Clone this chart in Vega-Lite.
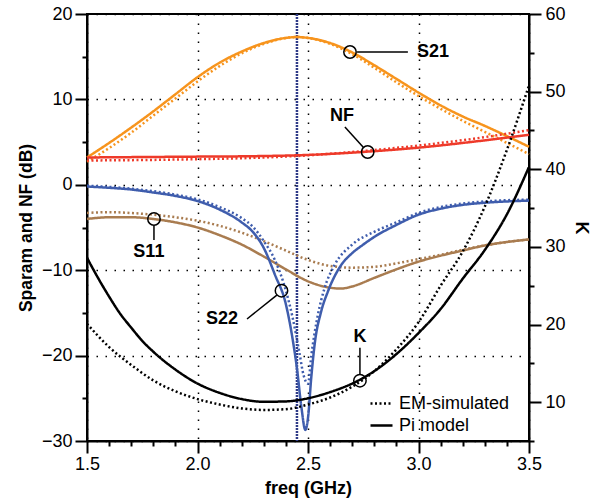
{
  "$schema": "https://vega.github.io/schema/vega-lite/v6.json",
  "width": 442,
  "height": 427,
  "autosize": {"type": "none"},
  "padding": {"left": 87, "top": 14, "right": 72, "bottom": 58},
  "background": "white",
  "config": {
    "view": {"stroke": "black", "strokeWidth": 2},
    "font": "Liberation Sans",
    "axis": {
      "labelFont": "Liberation Sans", "labelFontSize": 18, "labelColor": "black",
      "titleFont": "Liberation Sans", "titleFontSize": 18, "titleFontWeight": "bold", "titleColor": "black",
      "domainColor": "black", "domainWidth": 2, "tickColor": "black", "tickWidth": 2,
      "labelOverlap": false, "labelFlush": false, "labelBound": false,
      "gridColor": "black", "gridDash": [1.5, 7.5], "gridWidth": 1.5
    },
    "legend": {
      "orient": "none", "legendX": 282, "legendY": 377, "padding": 0,
      "labelFont": "Liberation Sans", "labelFontSize": 18, "labelColor": "black",
      "symbolType": "stroke", "symbolSize": 484, "symbolStrokeWidth": 2.5, "symbolStrokeColor": "black",
      "rowPadding": 0, "labelOffset": 5
    }
  },
  "datasets": {
    "db": [
      {"s":"S21","m":"Pi model","f":1.5,"v":3.2},{"s":"S21","m":"Pi model","f":1.6,"v":4.9},{"s":"S21","m":"Pi model","f":1.7,"v":6.7},{"s":"S21","m":"Pi model","f":1.8,"v":8.6},{"s":"S21","m":"Pi model","f":1.9,"v":10.6},{"s":"S21","m":"Pi model","f":2.0,"v":12.6},{"s":"S21","m":"Pi model","f":2.1,"v":14.3},{"s":"S21","m":"Pi model","f":2.2,"v":15.6},{"s":"S21","m":"Pi model","f":2.3,"v":16.6},{"s":"S21","m":"Pi model","f":2.4,"v":17.2},{"s":"S21","m":"Pi model","f":2.45,"v":17.3},{"s":"S21","m":"Pi model","f":2.5,"v":17.2},{"s":"S21","m":"Pi model","f":2.6,"v":16.6},{"s":"S21","m":"Pi model","f":2.7,"v":15.5},{"s":"S21","m":"Pi model","f":2.8,"v":14.0},{"s":"S21","m":"Pi model","f":2.9,"v":12.4},{"s":"S21","m":"Pi model","f":3.0,"v":10.8},{"s":"S21","m":"Pi model","f":3.1,"v":9.3},{"s":"S21","m":"Pi model","f":3.2,"v":8.0},{"s":"S21","m":"Pi model","f":3.3,"v":6.9},{"s":"S21","m":"Pi model","f":3.4,"v":5.7},{"s":"S21","m":"Pi model","f":3.5,"v":4.45},
      {"s":"S21","m":"EM-simulated","f":1.5,"v":2.7},{"s":"S21","m":"EM-simulated","f":1.6,"v":4.3},{"s":"S21","m":"EM-simulated","f":1.7,"v":6.1},{"s":"S21","m":"EM-simulated","f":1.8,"v":8.1},{"s":"S21","m":"EM-simulated","f":1.9,"v":10.1},{"s":"S21","m":"EM-simulated","f":2.0,"v":12.1},{"s":"S21","m":"EM-simulated","f":2.1,"v":13.9},{"s":"S21","m":"EM-simulated","f":2.2,"v":15.4},{"s":"S21","m":"EM-simulated","f":2.3,"v":16.5},{"s":"S21","m":"EM-simulated","f":2.4,"v":17.2},{"s":"S21","m":"EM-simulated","f":2.45,"v":17.3},{"s":"S21","m":"EM-simulated","f":2.5,"v":17.2},{"s":"S21","m":"EM-simulated","f":2.6,"v":16.5},{"s":"S21","m":"EM-simulated","f":2.7,"v":15.3},{"s":"S21","m":"EM-simulated","f":2.8,"v":13.7},{"s":"S21","m":"EM-simulated","f":2.9,"v":12.0},{"s":"S21","m":"EM-simulated","f":3.0,"v":10.4},{"s":"S21","m":"EM-simulated","f":3.1,"v":8.9},{"s":"S21","m":"EM-simulated","f":3.2,"v":7.5},{"s":"S21","m":"EM-simulated","f":3.3,"v":6.2},{"s":"S21","m":"EM-simulated","f":3.4,"v":4.9},{"s":"S21","m":"EM-simulated","f":3.5,"v":3.6},
      {"s":"NF","m":"Pi model","f":1.5,"v":3.2},{"s":"NF","m":"Pi model","f":1.75,"v":3.25},{"s":"NF","m":"Pi model","f":2.0,"v":3.3},{"s":"NF","m":"Pi model","f":2.25,"v":3.35},{"s":"NF","m":"Pi model","f":2.5,"v":3.5},{"s":"NF","m":"Pi model","f":2.75,"v":3.85},{"s":"NF","m":"Pi model","f":3.0,"v":4.35},{"s":"NF","m":"Pi model","f":3.25,"v":5.05},{"s":"NF","m":"Pi model","f":3.5,"v":5.85},
      {"s":"NF","m":"EM-simulated","f":1.5,"v":2.85},{"s":"NF","m":"EM-simulated","f":1.75,"v":2.9},{"s":"NF","m":"EM-simulated","f":2.0,"v":3.0},{"s":"NF","m":"EM-simulated","f":2.25,"v":3.15},{"s":"NF","m":"EM-simulated","f":2.5,"v":3.45},{"s":"NF","m":"EM-simulated","f":2.75,"v":3.95},{"s":"NF","m":"EM-simulated","f":3.0,"v":4.6},{"s":"NF","m":"EM-simulated","f":3.25,"v":5.4},{"s":"NF","m":"EM-simulated","f":3.5,"v":6.4},
      {"s":"S11","m":"Pi model","f":1.5,"v":-4.0},{"s":"S11","m":"Pi model","f":1.6,"v":-3.8},{"s":"S11","m":"Pi model","f":1.7,"v":-3.8},{"s":"S11","m":"Pi model","f":1.8,"v":-4.0},{"s":"S11","m":"Pi model","f":1.9,"v":-4.4},{"s":"S11","m":"Pi model","f":2.0,"v":-5.0},{"s":"S11","m":"Pi model","f":2.1,"v":-5.9},{"s":"S11","m":"Pi model","f":2.2,"v":-7.0},{"s":"S11","m":"Pi model","f":2.3,"v":-8.4},{"s":"S11","m":"Pi model","f":2.4,"v":-9.9},{"s":"S11","m":"Pi model","f":2.5,"v":-11.3},{"s":"S11","m":"Pi model","f":2.6,"v":-12.05},{"s":"S11","m":"Pi model","f":2.65,"v":-12.15},{"s":"S11","m":"Pi model","f":2.7,"v":-11.9},{"s":"S11","m":"Pi model","f":2.8,"v":-10.9},{"s":"S11","m":"Pi model","f":2.9,"v":-9.9},{"s":"S11","m":"Pi model","f":3.0,"v":-9.0},{"s":"S11","m":"Pi model","f":3.1,"v":-8.3},{"s":"S11","m":"Pi model","f":3.2,"v":-7.7},{"s":"S11","m":"Pi model","f":3.3,"v":-7.1},{"s":"S11","m":"Pi model","f":3.4,"v":-6.7},{"s":"S11","m":"Pi model","f":3.5,"v":-6.4},
      {"s":"S11","m":"EM-simulated","f":1.5,"v":-3.3},{"s":"S11","m":"EM-simulated","f":1.6,"v":-3.2},{"s":"S11","m":"EM-simulated","f":1.7,"v":-3.3},{"s":"S11","m":"EM-simulated","f":1.8,"v":-3.5},{"s":"S11","m":"EM-simulated","f":1.9,"v":-3.8},{"s":"S11","m":"EM-simulated","f":2.0,"v":-4.2},{"s":"S11","m":"EM-simulated","f":2.1,"v":-4.8},{"s":"S11","m":"EM-simulated","f":2.2,"v":-5.6},{"s":"S11","m":"EM-simulated","f":2.3,"v":-6.6},{"s":"S11","m":"EM-simulated","f":2.4,"v":-7.7},{"s":"S11","m":"EM-simulated","f":2.5,"v":-8.8},{"s":"S11","m":"EM-simulated","f":2.6,"v":-9.5},{"s":"S11","m":"EM-simulated","f":2.7,"v":-9.7},{"s":"S11","m":"EM-simulated","f":2.8,"v":-9.6},{"s":"S11","m":"EM-simulated","f":2.9,"v":-9.2},{"s":"S11","m":"EM-simulated","f":3.0,"v":-8.7},{"s":"S11","m":"EM-simulated","f":3.1,"v":-8.2},{"s":"S11","m":"EM-simulated","f":3.2,"v":-7.6},{"s":"S11","m":"EM-simulated","f":3.3,"v":-7.1},{"s":"S11","m":"EM-simulated","f":3.4,"v":-6.7},{"s":"S11","m":"EM-simulated","f":3.5,"v":-6.4},
      {"s":"S22","m":"Pi model","f":1.5,"v":-0.2},{"s":"S22","m":"Pi model","f":1.6,"v":-0.35},{"s":"S22","m":"Pi model","f":1.7,"v":-0.55},{"s":"S22","m":"Pi model","f":1.8,"v":-0.9},{"s":"S22","m":"Pi model","f":1.9,"v":-1.3},{"s":"S22","m":"Pi model","f":2.0,"v":-1.9},{"s":"S22","m":"Pi model","f":2.1,"v":-2.9},{"s":"S22","m":"Pi model","f":2.2,"v":-4.4},{"s":"S22","m":"Pi model","f":2.25,"v":-5.5},{"s":"S22","m":"Pi model","f":2.3,"v":-7.4},{"s":"S22","m":"Pi model","f":2.35,"v":-10.5},{"s":"S22","m":"Pi model","f":2.4,"v":-14.0},{"s":"S22","m":"Pi model","f":2.43,"v":-18.0},{"s":"S22","m":"Pi model","f":2.45,"v":-21.5},{"s":"S22","m":"Pi model","f":2.47,"v":-26.0},{"s":"S22","m":"Pi model","f":2.488,"v":-28.7},{"s":"S22","m":"Pi model","f":2.5,"v":-27.3},{"s":"S22","m":"Pi model","f":2.515,"v":-22.5},{"s":"S22","m":"Pi model","f":2.53,"v":-18.7},{"s":"S22","m":"Pi model","f":2.56,"v":-14.8},{"s":"S22","m":"Pi model","f":2.59,"v":-12.5},{"s":"S22","m":"Pi model","f":2.65,"v":-9.4},{"s":"S22","m":"Pi model","f":2.7,"v":-8.0},{"s":"S22","m":"Pi model","f":2.75,"v":-7.0},{"s":"S22","m":"Pi model","f":2.8,"v":-6.1},{"s":"S22","m":"Pi model","f":2.9,"v":-4.7},{"s":"S22","m":"Pi model","f":3.0,"v":-3.5},{"s":"S22","m":"Pi model","f":3.1,"v":-2.8},{"s":"S22","m":"Pi model","f":3.2,"v":-2.35},{"s":"S22","m":"Pi model","f":3.3,"v":-2.1},{"s":"S22","m":"Pi model","f":3.4,"v":-1.95},{"s":"S22","m":"Pi model","f":3.5,"v":-1.85},
      {"s":"S22","m":"EM-simulated","f":1.5,"v":-0.1},{"s":"S22","m":"EM-simulated","f":1.6,"v":-0.25},{"s":"S22","m":"EM-simulated","f":1.7,"v":-0.45},{"s":"S22","m":"EM-simulated","f":1.8,"v":-0.75},{"s":"S22","m":"EM-simulated","f":1.9,"v":-1.15},{"s":"S22","m":"EM-simulated","f":2.0,"v":-1.7},{"s":"S22","m":"EM-simulated","f":2.1,"v":-2.6},{"s":"S22","m":"EM-simulated","f":2.2,"v":-3.9},{"s":"S22","m":"EM-simulated","f":2.25,"v":-4.9},{"s":"S22","m":"EM-simulated","f":2.3,"v":-6.6},{"s":"S22","m":"EM-simulated","f":2.35,"v":-8.8},{"s":"S22","m":"EM-simulated","f":2.4,"v":-12.4},{"s":"S22","m":"EM-simulated","f":2.43,"v":-15.5},{"s":"S22","m":"EM-simulated","f":2.46,"v":-19.5},{"s":"S22","m":"EM-simulated","f":2.48,"v":-22.3},{"s":"S22","m":"EM-simulated","f":2.5,"v":-23.3},{"s":"S22","m":"EM-simulated","f":2.515,"v":-20.0},{"s":"S22","m":"EM-simulated","f":2.545,"v":-15.2},{"s":"S22","m":"EM-simulated","f":2.575,"v":-12.1},{"s":"S22","m":"EM-simulated","f":2.62,"v":-9.4},{"s":"S22","m":"EM-simulated","f":2.7,"v":-7.0},{"s":"S22","m":"EM-simulated","f":2.8,"v":-5.5},{"s":"S22","m":"EM-simulated","f":2.9,"v":-4.4},{"s":"S22","m":"EM-simulated","f":3.0,"v":-3.3},{"s":"S22","m":"EM-simulated","f":3.1,"v":-2.6},{"s":"S22","m":"EM-simulated","f":3.2,"v":-2.2},{"s":"S22","m":"EM-simulated","f":3.3,"v":-1.95},{"s":"S22","m":"EM-simulated","f":3.4,"v":-1.8},{"s":"S22","m":"EM-simulated","f":3.5,"v":-1.75}
    ],
    "kline": [
      {"m":"Pi model","f":1.5,"k":28.6},{"m":"Pi model","f":1.55,"k":26.0},{"m":"Pi model","f":1.6,"k":23.6},{"m":"Pi model","f":1.65,"k":21.4},{"m":"Pi model","f":1.7,"k":19.6},{"m":"Pi model","f":1.75,"k":17.9},{"m":"Pi model","f":1.8,"k":16.5},{"m":"Pi model","f":1.9,"k":14.2},{"m":"Pi model","f":2.0,"k":12.4},{"m":"Pi model","f":2.1,"k":11.2},{"m":"Pi model","f":2.2,"k":10.4},{"m":"Pi model","f":2.3,"k":10.05},{"m":"Pi model","f":2.4,"k":10.1},{"m":"Pi model","f":2.5,"k":10.5},{"m":"Pi model","f":2.6,"k":11.3},{"m":"Pi model","f":2.7,"k":12.4},{"m":"Pi model","f":2.8,"k":14.0},{"m":"Pi model","f":2.9,"k":16.2},{"m":"Pi model","f":3.0,"k":18.9},{"m":"Pi model","f":3.1,"k":22.0},{"m":"Pi model","f":3.2,"k":25.9},{"m":"Pi model","f":3.3,"k":29.6},{"m":"Pi model","f":3.4,"k":34.2},{"m":"Pi model","f":3.5,"k":40.3},
      {"m":"EM-simulated","f":1.5,"k":20.1},{"m":"EM-simulated","f":1.6,"k":17.1},{"m":"EM-simulated","f":1.7,"k":14.8},{"m":"EM-simulated","f":1.8,"k":12.8},{"m":"EM-simulated","f":1.9,"k":11.4},{"m":"EM-simulated","f":2.0,"k":10.4},{"m":"EM-simulated","f":2.1,"k":9.7},{"m":"EM-simulated","f":2.2,"k":9.2},{"m":"EM-simulated","f":2.3,"k":9.0},{"m":"EM-simulated","f":2.4,"k":9.1},{"m":"EM-simulated","f":2.5,"k":9.7},{"m":"EM-simulated","f":2.6,"k":10.6},{"m":"EM-simulated","f":2.7,"k":12.0},{"m":"EM-simulated","f":2.8,"k":14.0},{"m":"EM-simulated","f":2.9,"k":16.8},{"m":"EM-simulated","f":3.0,"k":20.3},{"m":"EM-simulated","f":3.1,"k":25.0},{"m":"EM-simulated","f":3.2,"k":29.4},{"m":"EM-simulated","f":3.3,"k":35.2},{"m":"EM-simulated","f":3.4,"k":42.5},{"m":"EM-simulated","f":3.5,"k":50.8}
    ],
    "circ": [{"f":2.69,"v":15.55},{"f":2.77,"v":3.84},{"f":1.803,"v":-4.0},{"f":2.38,"v":-12.4}],
    "lead": [
      {"f":2.722,"v":15.55,"f2":2.952,"v2":15.55},
      {"f":2.75,"v":4.4,"f2":2.667,"v2":6.77},
      {"f":1.803,"v":-4.77,"f2":1.803,"v2":-6.46},
      {"f":2.359,"v":-12.92,"f2":2.224,"v2":-15.71}
    ],
    "lab": [{"f":3.066,"v":15.55,"t":"S21"},{"f":2.654,"v":8.1,"t":"NF"},{"f":1.78,"v":-7.87,"t":"S11"},{"f":2.111,"v":-15.7,"t":"S22"}],
    "kc": [{"f":2.735,"k":12.77}],
    "kl": [{"f":2.735,"k":13.6,"k2":17.0}],
    "kt": [{"f":2.735,"k":18.4,"t":"K"}],
    "marker": [{"f":2.45}]
  },
  "encoding": {
    "x": {
      "field": "f", "type": "quantitative", "title": "freq (GHz)",
      "scale": {"domain": [1.5, 3.5], "nice": false, "zero": false},
      "axis": {
        "values": [1.5,1.6,1.7,1.8,1.9,2.0,2.1,2.2,2.3,2.4,2.5,2.6,2.7,2.8,2.9,3.0,3.1,3.2,3.3,3.4,3.5],
        "labelExpr": "round(datum.value*10) % 5 == 0 ? format(datum.value, '.1f') : ''",
        "tickSize": {"condition": {"test": "round(datum.value*10) % 5 == 0", "value": 12}, "value": 5},
        "grid": true,
        "gridOpacity": {"condition": {"test": "round(datum.value*10) % 5 == 0", "value": 1}, "value": 0},
        "labelPadding": 2, "titlePadding": 6
      }
    }
  },
  "layer": [
    {
      "data": {"name": "marker"},
      "mark": {"type": "rule", "color": "#2E3A87", "strokeWidth": 2.5, "strokeDash": [2, 1]},
      "encoding": {}
    },
    {
      "encoding": {
        "y": {
          "field": "v", "type": "quantitative", "title": "Sparam and NF (dB)",
          "scale": {"domain": [-30, 20], "nice": false, "zero": false},
          "axis": {
            "orient": "left",
            "values": [-30,-25,-20,-15,-10,-5,0,5,10,15,20],
            "labelExpr": "datum.value % 10 == 0 ? datum.label : ''",
            "tickSize": {"condition": {"test": "datum.value % 10 == 0", "value": 12}, "value": 5},
            "grid": true,
            "gridOpacity": {"condition": {"test": "datum.value % 10 == 0", "value": 1}, "value": 0},
            "labelPadding": 3, "titleFontSize": 17.5, "titlePadding": 6
          }
        }
      },
      "layer": [
        {
          "data": {"name": "db"},
          "mark": {"type": "line", "strokeWidth": 2.5, "interpolate": "monotone"},
          "encoding": {
            "color": {"field": "s", "type": "nominal", "legend": null,
              "scale": {"domain": ["S21","NF","S11","S22"], "range": ["#F7941D","#EE3A2A","#A97C50","#3F5DAD"]}},
            "strokeDash": {"field": "m", "type": "nominal", "legend": {"title": null},
              "scale": {"domain": ["EM-simulated","Pi model"], "range": [[2,2.5],[1,0]]}},
            "order": {"field": "f", "type": "quantitative"}
          }
        },
        {
          "data": {"name": "circ"},
          "mark": {"type": "point", "shape": "circle", "filled": false, "size": 154, "color": "black", "strokeWidth": 1.5, "opacity": 1}
        },
        {
          "data": {"name": "lead"},
          "mark": {"type": "rule", "color": "black", "strokeWidth": 1.5},
          "encoding": {"x2": {"field": "f2"}, "y2": {"field": "v2"}}
        },
        {
          "data": {"name": "lab"},
          "mark": {"type": "text", "font": "Liberation Sans", "fontWeight": "bold", "fontSize": 18, "color": "black", "align": "center", "baseline": "middle"},
          "encoding": {"text": {"field": "t"}}
        }
      ]
    },
    {
      "encoding": {
        "y": {
          "field": "k", "type": "quantitative", "title": "K",
          "scale": {"domain": [5, 60], "nice": false, "zero": false},
          "axis": {
            "orient": "right",
            "values": [5,10,15,20,25,30,35,40,45,50,55,60],
            "labelExpr": "datum.value % 10 == 0 ? datum.label : ''",
            "tickSize": {"condition": {"test": "datum.value % 10 == 0", "value": 12}, "value": 5},
            "grid": false,
            "labelPadding": 4, "titlePadding": 6
          }
        }
      },
      "layer": [
        {
          "data": {"name": "kline"},
          "mark": {"type": "line", "strokeWidth": 2.5, "color": "black", "interpolate": "monotone"},
          "encoding": {
            "strokeDash": {"field": "m", "type": "nominal", "legend": {"title": null},
              "scale": {"domain": ["EM-simulated","Pi model"], "range": [[2,2.5],[1,0]]}},
            "order": {"field": "f", "type": "quantitative"}
          }
        },
        {
          "data": {"name": "kc"},
          "mark": {"type": "point", "shape": "circle", "filled": false, "size": 154, "color": "black", "strokeWidth": 1.5, "opacity": 1}
        },
        {
          "data": {"name": "kl"},
          "mark": {"type": "rule", "color": "black", "strokeWidth": 1.5},
          "encoding": {"y2": {"field": "k2"}}
        },
        {
          "data": {"name": "kt"},
          "mark": {"type": "text", "font": "Liberation Sans", "fontWeight": "bold", "fontSize": 18, "color": "black", "align": "center", "baseline": "middle"},
          "encoding": {"text": {"field": "t"}}
        }
      ]
    }
  ],
  "resolve": {"scale": {"y": "independent"}}
}
